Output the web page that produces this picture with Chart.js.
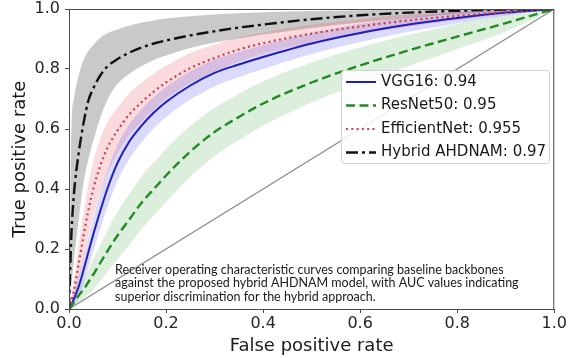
<!DOCTYPE html>
<html>
<head>
<meta charset="utf-8">
<script src="https://cdn.jsdelivr.net/npm/chart.js@4.4.1/dist/chart.umd.min.js"></script>
<style>
  html, body { margin: 0; padding: 0; background: #fff; overflow: hidden; }
  #wrap { position: absolute; left: 0; top: -10px; width: 568px; height: 368px; }
</style>
</head>
<body>
<div id="wrap"><canvas id="chart" width="568" height="368"></canvas></div>
<script>
// false positive rate grid shared by all curves
var fpr = [0, 0.005, 0.01, 0.02, 0.03, 0.04, 0.05, 0.065, 0.08, 0.1, 0.125, 0.15, 0.175, 0.2, 0.25, 0.3, 0.35, 0.4, 0.5, 0.6, 0.7, 0.8, 0.9, 1.0];

var vgg   = [0, 0.015, 0.033, 0.075, 0.13, 0.19, 0.248, 0.33, 0.405, 0.487, 0.56, 0.612, 0.655, 0.69, 0.745, 0.787, 0.815, 0.84, 0.885, 0.92, 0.948, 0.97, 0.988, 1];
var vggUp = [0, 0.025, 0.053, 0.11, 0.175, 0.24, 0.303, 0.39, 0.465, 0.547, 0.618, 0.667, 0.707, 0.74, 0.792, 0.832, 0.857, 0.88, 0.92, 0.95, 0.972, 0.988, 0.998, 1];
var vggLo = [0, 0.005, 0.013, 0.04, 0.085, 0.14, 0.193, 0.27, 0.345, 0.427, 0.502, 0.557, 0.603, 0.64, 0.698, 0.742, 0.773, 0.8, 0.85, 0.89, 0.924, 0.952, 0.978, 1];

var res   = [0, 0.01, 0.022, 0.045, 0.065, 0.09, 0.115, 0.155, 0.195, 0.245, 0.3, 0.355, 0.4, 0.445, 0.525, 0.59, 0.64, 0.685, 0.755, 0.812, 0.862, 0.908, 0.953, 1];
var resUp = [0, 0.016, 0.034, 0.067, 0.095, 0.13, 0.165, 0.215, 0.265, 0.325, 0.385, 0.443, 0.488, 0.533, 0.61, 0.67, 0.717, 0.759, 0.822, 0.872, 0.914, 0.95, 0.981, 1];
var resLo = [0, 0.004, 0.01, 0.023, 0.035, 0.05, 0.065, 0.095, 0.125, 0.165, 0.215, 0.267, 0.312, 0.357, 0.44, 0.51, 0.563, 0.611, 0.688, 0.752, 0.81, 0.866, 0.925, 1];

var eff   = [0, 0.027, 0.06, 0.15, 0.245, 0.33, 0.4, 0.48, 0.54, 0.595, 0.65, 0.69, 0.725, 0.755, 0.803, 0.837, 0.865, 0.886, 0.918, 0.942, 0.962, 0.977, 0.99, 1];
var effUp = [0, 0.047, 0.095, 0.21, 0.32, 0.415, 0.49, 0.57, 0.625, 0.67, 0.72, 0.755, 0.785, 0.81, 0.853, 0.882, 0.905, 0.922, 0.948, 0.967, 0.982, 0.991, 0.998, 1];
var effLo = [0, 0.007, 0.025, 0.09, 0.17, 0.245, 0.31, 0.39, 0.455, 0.52, 0.58, 0.625, 0.665, 0.7, 0.753, 0.792, 0.825, 0.85, 0.888, 0.917, 0.942, 0.963, 0.982, 1];

var hyb   = [0, 0.25, 0.38, 0.52, 0.62, 0.695, 0.735, 0.78, 0.81, 0.833, 0.855, 0.872, 0.885, 0.895, 0.912, 0.926, 0.938, 0.948, 0.966, 0.979, 0.988, 0.994, 0.998, 1];
var hybUp = [0, 0.6, 0.7, 0.78, 0.83, 0.86, 0.88, 0.905, 0.92, 0.932, 0.945, 0.955, 0.962, 0.968, 0.976, 0.982, 0.986, 0.989, 0.993, 0.996, 0.998, 0.999, 1, 1];
var hybLo = [0, 0.08, 0.16, 0.3, 0.42, 0.5, 0.56, 0.64, 0.7, 0.75, 0.785, 0.81, 0.83, 0.845, 0.87, 0.888, 0.902, 0.915, 0.937, 0.955, 0.97, 0.983, 0.993, 1];

var labels = ['VGG16: 0.94', 'ResNet50: 0.95', 'EfficientNet: 0.955', 'Hybrid AHDNAM: 0.97'];
var xTicks = [0, 0.2, 0.4, 0.6, 0.8, 1.0];
var yTicks = [0, 0.2, 0.4, 0.6, 0.8, 1.0];
var caption = [
	'Receiver operating characteristic curves comparing baseline backbones',
	'against the proposed hybrid AHDNAM model, with AUC values indicating',
	'superior discrimination for the hybrid approach.'
];

function pts(ys) {
	return fpr.map(function(x, i) { return {x: x, y: ys[i]}; });
}

function lineSet(label, ys, color, width, dash, order) {
	return {
		label: label, data: pts(ys), borderColor: color, borderWidth: width,
		borderDash: dash, pointRadius: 0, fill: false, order: order,
		cubicInterpolationMode: 'monotone'
	};
}

function bandSets(up, lo, color) {
	return [
		{ label: '', data: pts(up), borderWidth: 0, borderColor: 'transparent', pointRadius: 0,
		  backgroundColor: color, fill: '+1', order: 10, cubicInterpolationMode: 'monotone' },
		{ label: '', data: pts(lo), borderWidth: 0, borderColor: 'transparent', pointRadius: 0,
		  fill: false, order: 10, cubicInterpolationMode: 'monotone' }
	];
}

var lines = [
	lineSet(labels[0], vgg, '#1f1fb8', 2, [], 3),
	lineSet(labels[1], res, '#238a23', 2.4, [9, 4.5], 2),
	lineSet(labels[2], eff, '#c4404c', 2.2, [2, 3.3], 1),
	lineSet(labels[3], hyb, '#111111', 2.4, [12, 4, 3, 4], 0)
];

var datasets = lines.concat(
	[{ label: '', data: [{x: 0, y: 0}, {x: 1, y: 1}], borderColor: '#8a8a8a', borderWidth: 1.2,
	   pointRadius: 0, fill: false, order: 5 }],
	bandSets(vggUp, vggLo, 'rgba(70,70,235,0.2)'),
	bandSets(resUp, resLo, 'rgba(40,150,40,0.16)'),
	bandSets(effUp, effLo, 'rgba(235,70,85,0.2)'),
	bandSets(hybUp, hybLo, 'rgba(0,0,0,0.21)')
);

var decor = {
	id: 'decor',
	afterDraw: function(chart) {
		var c = chart.ctx, a = chart.chartArea;
		c.save();
		// frame
		c.strokeStyle = '#4a4a4a';
		c.lineWidth = 1;
		c.strokeRect(a.left + 0.5, a.top + 0.5, a.right - a.left - 1, a.bottom - a.top);

		// caption
		c.fillStyle = '#1a1a1a';
		c.font = '12.5px Lato';
		c.textBaseline = 'middle';
		c.textAlign = 'left';
		caption.forEach(function(t, i) { c.fillText(t, 115, 280 + i * 13.3); });

		// legend
		var bx = 341, by = 80, bw = 208, bh = 93;
		c.beginPath();
		c.roundRect(bx + 0.5, by + 0.5, bw, bh, 3);
		c.fillStyle = 'rgba(255,255,255,0.85)';
		c.fill();
		c.strokeStyle = '#d2d2d2';
		c.stroke();
		c.font = '15px "DejaVu Sans"';
		c.fillStyle = '#1a1a1a';
		lines.forEach(function(d, i) {
			var y = by + 12 + i * 23.5;
			c.beginPath();
			c.setLineDash(d.borderDash);
			c.strokeStyle = d.borderColor;
			c.lineWidth = d.borderWidth;
			c.moveTo(346, y);
			c.lineTo(376, y);
			c.stroke();
			c.setLineDash([]);
			c.fillText(d.label, 381, y);
		});
		c.restore();
	}
};

var tickFont = { family: 'DejaVu Sans', size: 16 };
var titleFont = { family: 'DejaVu Sans', size: 18 };

var chart = new Chart(document.getElementById('chart').getContext('2d'), {
	type: 'line',
	data: { datasets: datasets },
	options: {
		responsive: false,
		animation: false,
		devicePixelRatio: 1,
		layout: { padding: { top: 19, right: 13, left: 0, bottom: 0 } },
		plugins: { legend: { display: false }, tooltip: { enabled: false } },
		scales: {
			x: {
				type: 'linear', min: 0, max: 1,
				afterFit: function(s) { s.height = 49; },
				afterBuildTicks: function(s) { s.ticks = xTicks.map(function(v) { return {value: v}; }); },
				grid: { drawOnChartArea: false, tickLength: 4, color: '#4a4a4a' },
				border: { color: '#4a4a4a' },
				ticks: { font: tickFont, color: '#262626', padding: 1, maxRotation: 0,
					callback: function(v) { return v.toFixed(1); } },
				title: { display: true, text: 'False positive rate', font: titleFont, color: '#1a1a1a',
					padding: { top: 0, bottom: 1 } }
			},
			y: {
				type: 'linear', min: 0, max: 1,
				afterFit: function(s) { s.width = 69; },
				afterBuildTicks: function(s) { s.ticks = yTicks.map(function(v) { return {value: v}; }); },
				grid: { drawOnChartArea: false, tickLength: 4, color: '#4a4a4a' },
				border: { color: '#4a4a4a' },
				ticks: { font: tickFont, color: '#262626', padding: 5,
					callback: function(v) { return v.toFixed(1); } },
				title: { display: true, text: 'True positive rate', font: titleFont, color: '#1a1a1a',
					padding: { top: 10, bottom: 0 } }
			}
		}
	},
	plugins: [decor]
});
</script>
</body>
</html>
